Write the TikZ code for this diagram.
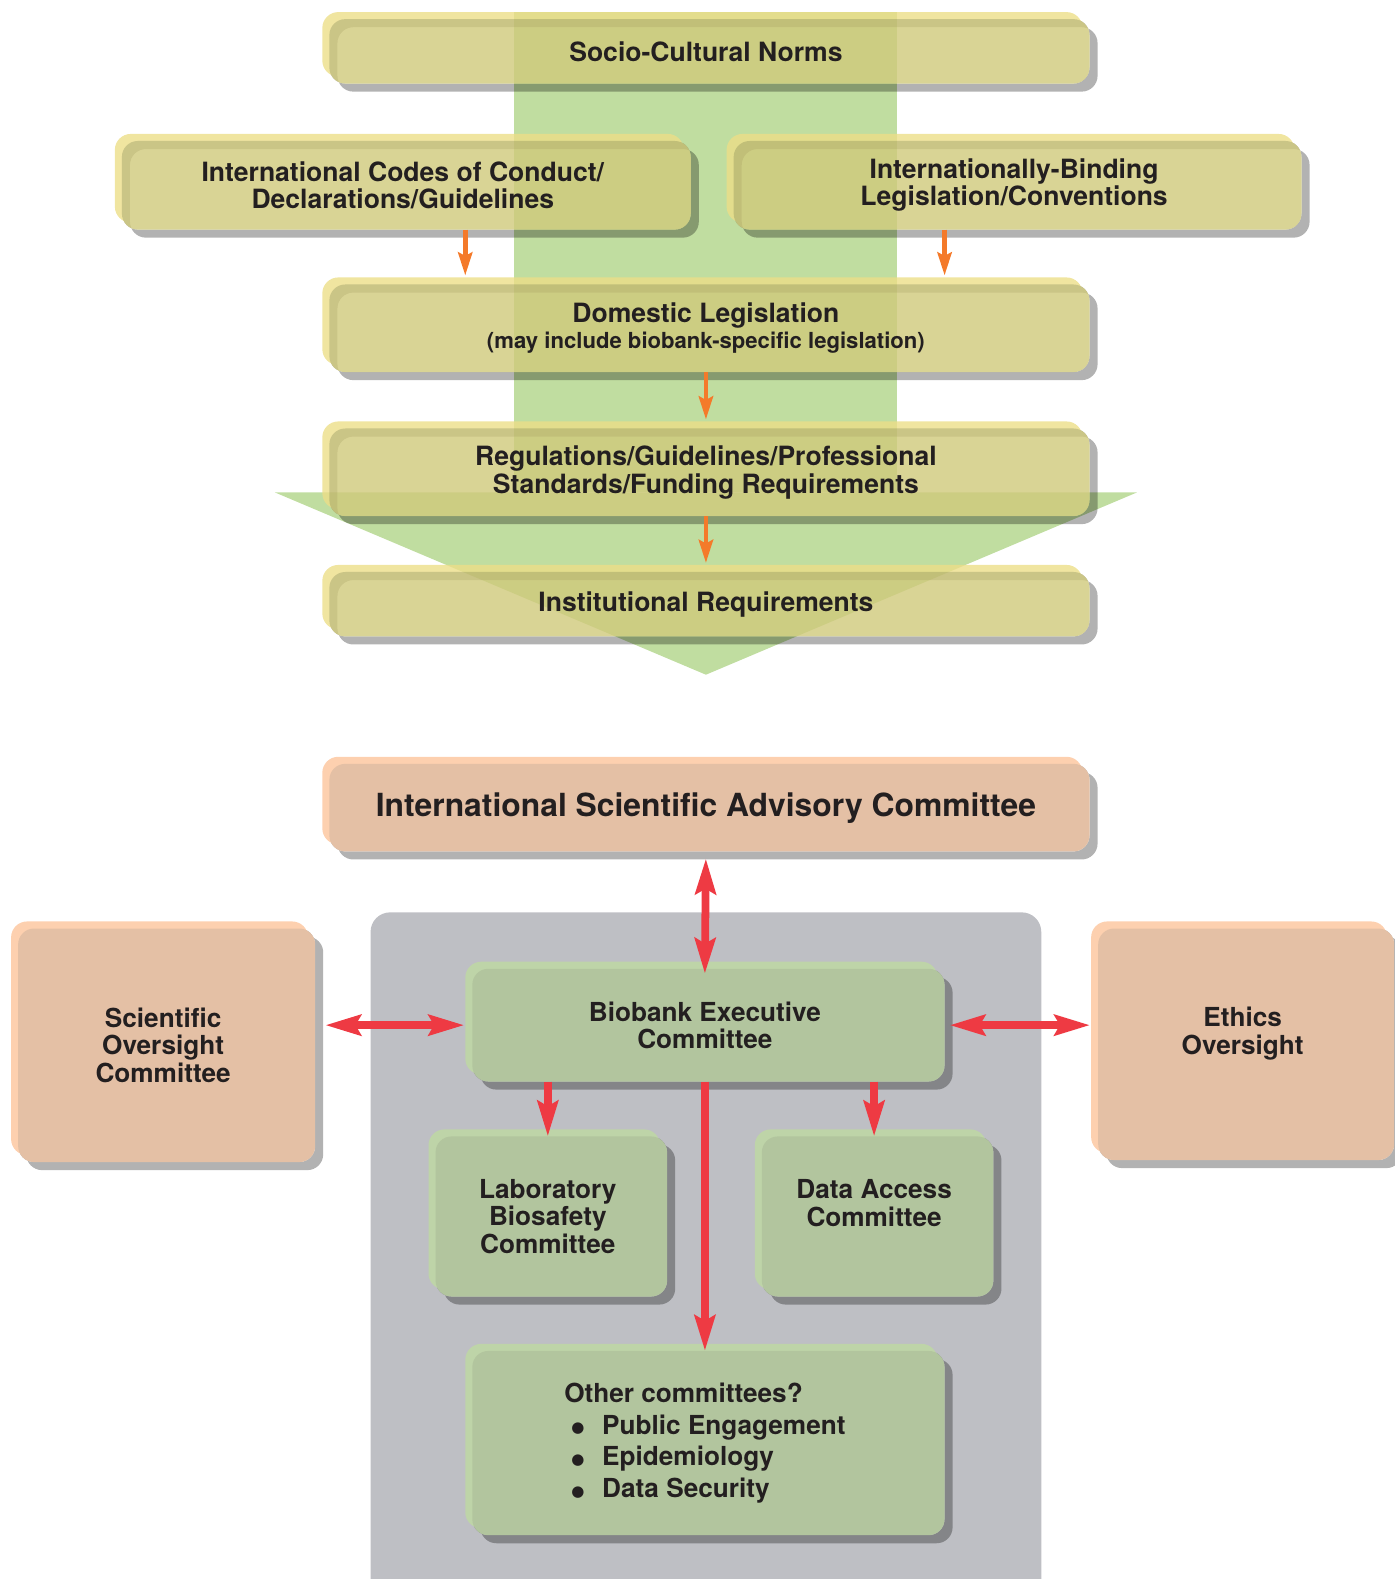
\documentclass[tikz,border=0pt]{standalone}
\usepackage{fontspec}
\setmainfont{TeX Gyre Heros}
\newfontfamily\dotfont{DejaVu Sans}
\usepackage{tikz}
\usetikzlibrary{arrows.meta, positioning, backgrounds}

\definecolor{ylwbox}{RGB}{208,201,123}
\definecolor{ylwhi}{RGB}{236,222,136}
\definecolor{orgbox}{RGB}{228,192,165}
\definecolor{orghi}{RGB}{253,208,175}
\definecolor{grnbox}{RGB}{178,197,158}
\definecolor{grnhi}{RGB}{190,212,168}
\definecolor{flowgreen}{RGB}{192,221,160}
\definecolor{panelgray}{RGB}{190,191,196}
\definecolor{linkred}{RGB}{238,58,67}
\definecolor{linkorange}{RGB}{244,122,42}
\definecolor{inktext}{RGB}{35,31,32}

\newcommand{\listdot}{\hspace*{4pt}\raisebox{0.8pt}{\dotfont\fontsize{8.5}{9}\selectfont ●}\hspace{10pt}}

\begin{document}
\begin{tikzpicture}[x=0.02cm, y=-0.02cm,
    panel/.style={rectangle, inner sep=0pt, outer sep=0pt, align=center, text=inktext, font=\bfseries\fontsize{15}{15.5}\selectfont},
    lowpanel/.style={panel, font=\bfseries\fontsize{14.8}{15.5}\selectfont},
    boxshadow/.style={fill=black, fill opacity=0.3},
    flow/.style={-{Stealth[length=13pt, width=8pt, inset=2pt]}, line width=2.6pt, linkorange},
    link/.style={-{Stealth[length=20pt, width=11.5pt, inset=3pt]}, line width=4.4pt, linkred},
    twolink/.style={{Stealth[length=20pt, width=11.5pt, inset=3pt]}-{Stealth[length=20pt, width=11.5pt, inset=3pt]}, line width=4.4pt, linkred},
]
\clip (0,0) rectangle (1385,1568);

% Norms and legislation
\node[panel, minimum width=15.24cm, minimum height=1.28cm] (norms) at (701,51) {Socio-Cultural Norms};
\node[panel, minimum width=11.44cm, minimum height=1.76cm] (codes) at (400,184) {International Codes of Conduct/\\Declarations/Guidelines};
\node[panel, minimum width=11.42cm, minimum height=1.76cm] (binding) at (1007,184) {Internationally-Binding\\Legislation/Conventions};
\node[panel, minimum width=15.24cm, minimum height=1.74cm] (domestic) at (701,326) {Domestic Legislation\\[-1pt]{\fontsize{12.5}{15.9}\selectfont(may include biobank-specific legislation)}};
\node[panel, minimum width=15.24cm, minimum height=1.74cm] (regs) at (701,469) {Regulations/Guidelines/Professional\\Standards/Funding Requirements};
\node[panel, minimum width=15.24cm, minimum height=1.28cm] (inst) at (701,600) {Institutional Requirements};

% Committees
\node[panel, font=\bfseries\fontsize{18}{20}\selectfont, minimum width=15.24cm, minimum height=1.74cm] (isac) at (701,802) {International Scientific Advisory Committee};
\node[lowpanel, minimum width=6.04cm, minimum height=4.64cm] (soc) at (162,1038) {Scientific\\Oversight\\Committee};
\node[lowpanel, minimum width=6.02cm, minimum height=4.6cm] (ethics) at (1234,1037) {Ethics\\Oversight\\\mbox{}};
\node[lowpanel, minimum width=9.52cm, minimum height=2.24cm] (bec) at (700,1018) {Biobank Executive\\Committee};
\node[lowpanel, minimum width=4.74cm, minimum height=3.18cm] (lab) at (544,1208) {Laboratory\\Biosafety\\Committee};
\node[lowpanel, minimum width=4.74cm, minimum height=3.18cm] (data) at (868,1208) {Data Access\\Committee\\\mbox{}};
\node[lowpanel, font=\bfseries\fontsize{14.8}{18}\selectfont, align=left, minimum width=9.52cm, minimum height=3.66cm] (other) at (700,1433) {Other committees?\\\listdot Public Engagement\\\listdot Epidemiology\\\listdot Data Security};

% Backdrops, shadows and box faces
\begin{scope}[on background layer]
  \fill[panelgray, rounded corners=11pt] (368,906) rectangle (1034,1610);
  \fill[flowgreen] (510,12) rectangle (891,489);
  \fill[flowgreen] (273,489) -- (1129,489) -- (701,670) -- cycle;
  \foreach \n/\c/\h/\o in {norms/ylwbox/ylwhi/0.8, codes/ylwbox/ylwhi/0.8, binding/ylwbox/ylwhi/0.8,
      domestic/ylwbox/ylwhi/0.8, regs/ylwbox/ylwhi/0.8, inst/ylwbox/ylwhi/0.8,
      isac/orgbox/orghi/1, soc/orgbox/orghi/1, ethics/orgbox/orghi/1,
      bec/grnbox/grnhi/1, lab/grnbox/grnhi/1, data/grnbox/grnhi/1, other/grnbox/grnhi/1}{
    \fill[boxshadow, even odd rule, rounded corners=9pt]
      ([shift={(15,8)}]\n.north west) rectangle ([shift={(8,8)}]\n.south east)
      ([xshift=0.14cm]\n.north west) rectangle (\n.south east);
    \begin{scope}[transparency group, opacity=\o]
      \fill[\h, rounded corners=9pt] ([shift={(0,-7)}]\n.north west) rectangle ([shift={(-7,-7)}]\n.south east);
      \fill[\c, rounded corners=9pt] ([xshift=0.14cm]\n.north west) rectangle (\n.south east);
    \end{scope}
  }
\end{scope}

% Orange arrows
\coordinate (leftdrop) at (462,0);
\coordinate (rightdrop) at (938,0);
\draw[flow, shorten >=0.18cm] (codes.south -| leftdrop) -- (domestic.north -| leftdrop);
\draw[flow, shorten >=0.18cm] (binding.south -| rightdrop) -- (domestic.north -| rightdrop);
\draw[flow, shorten >=0.18cm] (domestic.south) -- (regs.north);
\draw[flow, shorten >=0.18cm] (regs.south) -- (inst.north);

% Red arrows
\draw[twolink, shorten <=0.14cm, shorten >=-0.1cm] (isac.south) -- (bec.north);
\draw[twolink, shorten <=0.2cm, shorten >=0.02cm] (soc.east |- bec.west) -- (bec.west);
\draw[twolink, shorten <=0.1cm, shorten >=0.02cm] (bec.east) -- (ethics.west |- bec.east);
\draw[link] (bec.south -| lab.north) -- (lab.north);
\draw[link] (bec.south -| data.north) -- (data.north);
\draw[link] (bec.south) -- (other.north);

\end{tikzpicture}
\end{document}
